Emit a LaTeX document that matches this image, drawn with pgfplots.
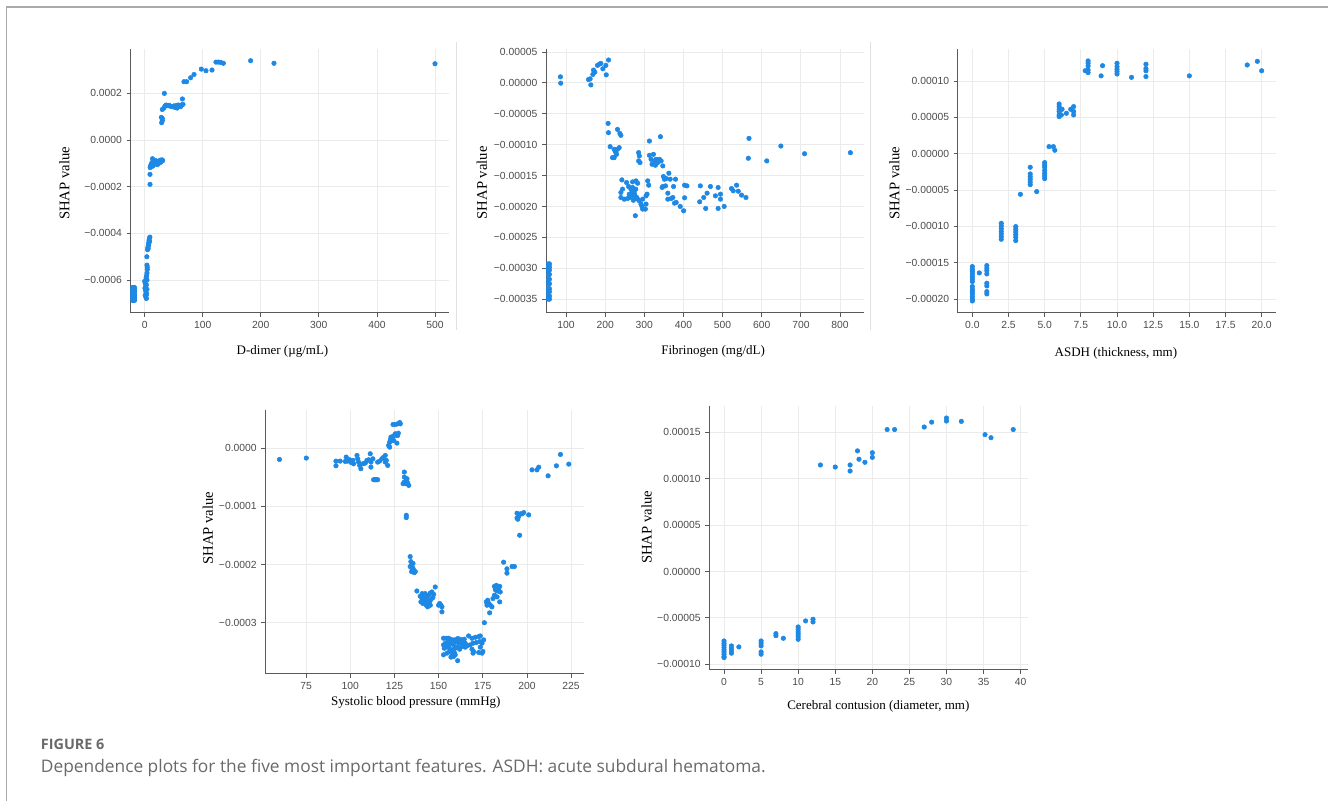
\documentclass[border=0pt]{standalone}
\usepackage{fontspec}
\setmainfont{Liberation Serif}
\newfontfamily\ticksans{Liberation Sans}
\newfontfamily\capfont{Open Sans}
\usepackage{pgfplots}
\pgfplotsset{compat=1.18}
\definecolor{shapblue}{RGB}{30,136,229}
\definecolor{spine}{RGB}{90,90,90}
\definecolor{ticktext}{RGB}{75,75,75}
\definecolor{framegray}{RGB}{170,170,170}
\definecolor{sepgray}{RGB}{225,225,225}
\definecolor{capgray}{RGB}{105,105,105}
\pgfplotsset{
  myax/.style={
    scale only axis, width=238.7pt, height=197.6pt,
    anchor=south west,
    axis x line*=bottom, axis y line*=left,
    axis line style={draw=spine, line width=0.75pt, -},
    tick align=outside, major tick length=3pt,
    tick style={draw=spine, line width=0.6pt},
    grid=major, grid style={draw=black!8, line width=0.6pt},
    tick label style={font=\ticksans\fontsize{7.75}{9}\selectfont, text=ticktext},
    x label style={font=\fontsize{9.75}{11}\selectfont, text=black},
    y label style={font=\fontsize{11}{13}\selectfont, text=black},
    scaled ticks=false,
    clip marker paths=true,
  },
  dots/.style={only marks, mark=*, mark size=1.7pt, color=shapblue, mark options={draw=none, fill=shapblue}},
}
\begin{document}
\begin{tikzpicture}
\path[use as bounding box] (0,0) rectangle (996pt,600.75pt);
% frame and separators
\draw[framegray, line width=1.1pt] (5pt,0) -- (5pt,595.5pt) -- (996pt,595.5pt);
\draw[sepgray, line width=0.75pt] (342.5pt,353.25pt) -- (342.5pt,569.25pt);
\draw[sepgray, line width=0.75pt] (652.5pt,353.25pt) -- (652.5pt,569.25pt);

% ---------------- Panel 1: D-dimer
\begin{axis}[myax, at={(98pt,366.2pt)},
  xmin=-24.1, xmax=524, ymin=-0.00074, ymax=0.000389,
  xtick={0,100,200,300,400,500}, xticklabels={0,100,200,300,400,500},
  ytick={-0.0006,-0.0004,-0.0002,0,0.0002},
  yticklabels={−0.0006,−0.0004,−0.0002,0.0000,0.0002},
  xlabel={D-dimer (µg/mL)}, ylabel={SHAP value},
  xlabel style={at={([yshift=-28.7pt]axis description cs:0.477,0)}, anchor=center},
  ylabel style={at={([xshift=-49.8pt]axis description cs:0,0.491)}, anchor=center},
]
\addplot[dots] coordinates {
(-21,-0.000632)(-21,-0.000637)(-21,-0.000642)(-21,-0.000647)(-21,-0.000652)(-21,-0.000657)(-21,-0.000662)(-21,-0.000667)(-21,-0.000672)(-21,-0.000677)(-21,-0.000682)(-21,-0.000687)
(-19,-0.000632)(-19,-0.000637)(-19,-0.000642)(-19,-0.000647)(-19,-0.000652)(-19,-0.000657)(-19,-0.000662)(-19,-0.000667)(-19,-0.000672)(-19,-0.000677)(-19,-0.000682)(-19,-0.000687)
(-17.5,-0.000632)(-17.5,-0.000637)(-17.5,-0.000642)(-17.5,-0.000647)(-17.5,-0.000652)(-17.5,-0.000657)(-17.5,-0.000662)(-17.5,-0.000667)(-17.5,-0.000672)(-17.5,-0.000677)(-17.5,-0.000682)(-17.5,-0.000687)
(0,-0.000605)(1,-0.000615)(2,-0.000625)(0.5,-0.000635)(1.5,-0.000645)(2.5,-0.000655)(1,-0.000665)(2,-0.000672)(3,-0.000679)(3.5,-0.000660)(4,-0.000640)(3,-0.000620)(4,-0.000600)(2.5,-0.000590)(3.5,-0.000580)(4,-0.000570)(4.5,-0.000555)(4.5,-0.000545)(4,-0.000536)(3.8,-0.000500)
(5,-0.000470)(5.5,-0.000460)(6.5,-0.000452)(7,-0.000440)(7.5,-0.000430)(8,-0.000422)(9,-0.000416)(7,-0.000448)(6,-0.000465)(8.5,-0.000435)
(9.2,-0.000190)(9.2,-0.000147)
(9.5,-0.000118)(10.5,-0.000110)(12,-0.000100)(13.5,-0.000080)(15,-0.000090)(16,-0.000105)(17,-0.000095)(18,-0.000100)(19,-0.000088)(20,-0.000098)(21,-0.000092)(22,-0.000105)(23,-0.000095)(24,-0.000100)(25,-0.000090)(26,-0.000097)(27,-0.000086)(28,-0.000094)(30,-0.000085)(31,-0.000088)(14,-0.000112)(11,-0.000106)(13,-0.000096)
(29.3,0.0000743)(30.4,0.0000829)(30.4,0.0000929)(28.7,0.0000971)(30.4,0.000131)(33.9,0.0002)
(33,0.000137)(35,0.000146)(37,0.00015)(40,0.000147)(42,0.000149)(45,0.000144)(48,0.000143)(50,0.000146)(52,0.000140)(54,0.000148)(56,0.000137)(58,0.000150)(60,0.000147)(62,0.000143)(64,0.000151)(66,0.000153)(65,0.000176)
(67.7,0.00025)(72.3,0.00025)(79.2,0.000267)(85,0.000281)(97.6,0.000304)(105.6,0.000297)(116,0.0003)(122.8,0.000334)(126.9,0.000334)(130.9,0.000333)(135.5,0.000329)(182.5,0.00034)(222.7,0.000329)(500,0.000327)
};
\end{axis}

% ---------------- Panel 2: Fibrinogen
\begin{axis}[myax, at={(409.5pt,366.2pt)},
  xmin=48.7, xmax=862, ymin=-0.000372, ymax=0.0000544,
  xtick={100,200,300,400,500,600,700,800}, xticklabels={100,200,300,400,500,600,700,800},
  ytick={-0.00035,-0.0003,-0.00025,-0.0002,-0.00015,-0.0001,-0.00005,0,0.00005},
  yticklabels={−0.00035,−0.00030,−0.00025,−0.00020,−0.00015,−0.00010,−0.00005,0.00000,0.00005},
  xlabel={Fibrinogen (mg/dL)}, ylabel={SHAP value},
  xlabel style={at={([yshift=-28.7pt]axis description cs:0.525,0)}, anchor=center},
  ylabel style={at={([xshift=-48.2pt]axis description cs:0,0.493)}, anchor=center},
]
\addplot[dots] coordinates {
(54.5,-0.000293)(54.5,-0.000298)(54.5,-0.000303)(54.5,-0.000310)(54.5,-0.000318)(54.5,-0.000325)(54.5,-0.000333)(54.5,-0.000338)(54.5,-0.000345)(54.5,-0.000350)
(57.5,-0.000293)(57.5,-0.000298)(57.5,-0.000303)(57.5,-0.000310)(57.5,-0.000318)(57.5,-0.000325)(57.5,-0.000333)(57.5,-0.000338)(57.5,-0.000345)(57.5,-0.000350)
(85.5,0.0000098)(86.3,-0.0000005)(157.3,0.0000054)(161.5,0.0000065)(163.2,-0.0000033)(168.4,0.0000136)(170.1,0.0000207)(173.5,0.0000174)(180.3,0.0000283)(185.5,0.0000304)(188.9,0.0000315)(194,0.0000228)(201.7,0.0000283)(202.6,0.000013)(208.5,0.000037)
(207.4,-0.0000656)(208.3,-0.0000806)(231.4,-0.0000753)(237.4,-0.0000817)(240.0,-0.0000849)(212.6,-0.0001032)(218.6,-0.000121)(222.9,-0.000121)(222.9,-0.0001075)(227.2,-0.0001129)(231.4,-0.0001075)(235.7,-0.0001048)(225.4,-0.0001102)(228.9,-0.0001156)
(312.9,-0.0000941)(341.1,-0.0000871)(285.4,-0.0001129)(287.1,-0.0001183)(285.4,-0.0001263)(288.9,-0.000129)
(312.9,-0.0001172)(317.1,-0.0001237)(323.1,-0.0001156)(325.7,-0.0001263)(330.0,-0.0001237)(334.3,-0.000129)(338.6,-0.0001237)(342.9,-0.0001263)(347.1,-0.0001344)(319.7,-0.0001317)(328.3,-0.0001333)
(242.6,-0.000157)(254.6,-0.0001613)(270.0,-0.0001602)(278.6,-0.0001586)(282.9,-0.0001624)(259.7,-0.0001677)(265.7,-0.000172)(270.0,-0.0001693)(274.3,-0.0001747)(261.4,-0.0001801)(268.3,-0.0001828)(263.1,-0.0001855)(244.3,-0.000172)(240.0,-0.0001774)(240.0,-0.0001855)(248.6,-0.0001882)(257.1,-0.0001871)(276.9,-0.0001855)(282.9,-0.0001882)(287.1,-0.0001909)(295.7,-0.0001882)(291.4,-0.0001962)(295.7,-0.0002043)(302.6,-0.0002043)(294.0,-0.0002)(304.3,-0.0001962)(308.6,-0.0001586)(311.1,-0.0001656)(306.9,-0.0001801)(304.3,-0.0001828)(276.9,-0.000215)
(270,-0.000175)(275,-0.00018)(268,-0.000178)(280,-0.000185)(272,-0.00019)(278,-0.000172)(266,-0.000183)
(348.8,-0.0001516)(351.4,-0.0001559)(355.7,-0.0001548)(362.6,-0.0001462)(366.0,-0.0001559)(379.7,-0.0001559)(347.1,-0.0001677)(354.0,-0.0001667)(374.6,-0.0001677)(345.4,-0.0001693)
(360.0,-0.0001785)(368.6,-0.0001871)(372.8,-0.0001855)(360.0,-0.0001882)(377.1,-0.0001946)(381.4,-0.0001935)(391.7,-0.00020)(400.3,-0.000207)
(402.8,-0.0001656)(408.8,-0.0001667)(402.8,-0.000186)
(443.1,-0.0001667)(441.4,-0.0001925)(456.8,-0.0002032)(451.7,-0.0001855)(460.3,-0.0001785)(468.8,-0.0001677)(488.5,-0.0001693)(481.7,-0.0001828)(494.5,-0.0001801)(494.5,-0.0001882)(488.5,-0.0002032)(504.0,-0.00020)(522.8,-0.000171)(527.1,-0.0001747)(535.7,-0.0001656)(540.0,-0.0001753)(548.5,-0.0001817)(559.7,-0.0001855)
(567.4,-0.0000898)(565.7,-0.000122)(612.8,-0.0001263)(648.8,-0.0001022)(709.4,-0.0001147)(826.5,-0.000113)
};
\end{axis}

% ---------------- Panel 3: ASDH
\begin{axis}[myax, at={(718.3pt,366.2pt)},
  xmin=-1.01, xmax=20.99, ymin=-0.000219, ymax=0.0001436,
  xtick={0,2.5,5,7.5,10,12.5,15,17.5,20}, xticklabels={0.0,2.5,5.0,7.5,10.0,12.5,15.0,17.5,20.0},
  ytick={-0.0002,-0.00015,-0.0001,-0.00005,0,0.00005,0.0001},
  yticklabels={−0.00020,−0.00015,−0.00010,−0.00005,0.00000,0.00005,0.00010},
  xlabel={ASDH (thickness, mm)}, ylabel={SHAP value},
  xlabel style={at={([yshift=-30.2pt]axis description cs:0.497,0)}, anchor=center},
  ylabel style={at={([xshift=-47.5pt]axis description cs:0,0.491)}, anchor=center},
]
\addplot[dots] coordinates {
(0,-0.0001555)(0,-0.0001592)(0,-0.0001624)(0,-0.0001656)(0,-0.0001693)(0,-0.0001729)(0,-0.0001761)(0,-0.000183)(0,-0.0001867)(0,-0.0001899)(0,-0.0001931)(0,-0.0001968)(0,-0.0002)(0,-0.0002028)
(0.48,-0.0001642)
(1,-0.0001541)(1,-0.0001578)(1,-0.000161)(1,-0.0001656)(1,-0.0001784)(1,-0.0001821)(1,-0.0001899)(1,-0.0001931)
(2,-0.0000959)(2,-0.0000995)(2,-0.0001032)(2,-0.0001069)(2,-0.0001105)(2,-0.0001142)(2,-0.0001179)
(3,-0.0001005)(3,-0.0001041)(3,-0.0001078)(3,-0.0001115)(3,-0.0001151)(3,-0.0001197)
(3.32,-0.000056)
(4,-0.0000188)(4,-0.000028)(4,-0.0000317)(4,-0.0000353)(4,-0.000039)(4,-0.0000427)
(4.45,-0.0000523)
(5,-0.0000124)(5,-0.0000156)(5,-0.0000188)(5,-0.0000234)(5,-0.0000271)(5,-0.0000307)(5,-0.0000344)
(5.3,0.0000096)(5.6,0.0000096)(5.7,0.0000046)
(6,0.0000683)(6,0.0000647)(6,0.000061)(6,0.0000578)(6,0.0000532)(6,0.0000509)(6.2,0.000061)(6.15,0.0000532)
(6.5,0.0000555)(6.8,0.000061)(7,0.0000647)(7,0.000058)(7,0.0000532)
(7.8,0.000114)(8,0.0001275)(8,0.0001243)(8,0.0001206)(8,0.0001151)(8,0.0001115)
(8.9,0.000107)(9,0.000121)
(10,0.0001243)(10,0.0001197)(10,0.0001161)(10,0.0001128)(10,0.0001096)
(11,0.000105)
(12,0.000123)(12,0.000117)(12,0.000114)(12,0.000106)
(15,0.000107)(19,0.000122)(19.7,0.000127)(20,0.000114)
};
\end{axis}

% ---------------- Panel 4: Systolic blood pressure
\begin{axis}[myax, at={(199pt,95.3pt)},
  xmin=51.9, xmax=232.1, ymin=-0.000388, ymax=0.0000647,
  xtick={75,100,125,150,175,200,225}, xticklabels={75,100,125,150,175,200,225},
  ytick={-0.0003,-0.0002,-0.0001,0},
  yticklabels={−0.0003,−0.0002,−0.0001,0.0000},
  xlabel={Systolic blood pressure (mmHg)}, ylabel={SHAP value},
  xlabel style={at={([yshift=-21pt]axis description cs:0.473,0)}, anchor=center},
  ylabel style={at={([xshift=-43.2pt]axis description cs:0,0.553)}, anchor=center},
]
\addplot[dots] coordinates {
(59.9,-0.0000195)(75.1,-0.0000171)
(91.9,-0.0000223)(91.9,-0.0000303)(94.3,-0.0000223)(97.7,-0.0000154)(98.5,-0.0000223)(99.6,-0.00002)(100.4,-0.0000246)(101.5,-0.0000211)(101.9,-0.0000269)(97.2,-0.0000229)
(103.8,-0.0000126)(104.2,-0.0000183)(104.7,-0.000024)(105.3,-0.0000297)(106.0,-0.0000354)(107.2,-0.0000269)(108.5,-0.0000257)(109.4,-0.0000211)(110.4,-0.00002)(111.3,-0.0000097)(111.7,-0.000024)(111.7,-0.0000326)(112.8,-0.0000183)
(113.2,-0.0000543)(113.8,-0.0000543)(114.4,-0.0000543)(114.9,-0.0000543)(115.5,-0.0000543)
(115.5,-0.000024)(116.6,-0.0000223)(117.9,-0.0000183)(118.9,-0.0000154)(119.8,-0.0000126)(120.4,-0.0000211)(121.2,-0.0000297)(119.8,-0.000024)
(121.7,0.0000046)(122.3,0.0000103)(122.7,0.0000143)(123.0,0.0000189)(123.6,0.0000131)(124.2,0.00002)(124.9,0.0000217)(125.5,0.0000246)(126.1,0.0000223)(126.8,0.0000217)(127.2,0.0000257)(124.6,0.0000131)(126.4,0.0000086)(122.3,0.0000017)
(124.2,0.0000406)(125.5,0.0000406)(126.8,0.0000417)(128.0,0.000044)(128.3,0.0000417)
(130.6,-0.0000411)(130.6,-0.0000497)(130.6,-0.0000583)(131.7,-0.0000554)(132.5,-0.00006)(133.1,-0.000064)(129.9,-0.0000611)(131.4,-0.0000611)(132.1,-0.0000526)
(131.7,-0.0001154)(131.7,-0.0001194)
(133.9,-0.0001864)(134.3,-0.000195)(134.9,-0.0002008)(135.5,-0.0002065)(135.8,-0.0002094)(136.2,-0.000214)(134.7,-0.0002122)(133.9,-0.0002036)(136.8,-0.0002122)(135.1,-0.000208)(135.5,-0.000198)
(139.6,-0.0002545)(140.6,-0.0002585)(141.5,-0.0002528)(142.4,-0.00025)(143.4,-0.0002557)(144.3,-0.0002528)(145.3,-0.0002489)(146.2,-0.0002472)(147.2,-0.0002511)(140.0,-0.0002642)(141.1,-0.000267)(141.9,-0.0002614)(143.0,-0.0002699)(143.8,-0.0002727)(144.9,-0.0002642)(145.7,-0.0002602)(146.8,-0.0002568)(144.3,-0.000267)(142.4,-0.0002642)(140.7,-0.00025)(145.3,-0.0002699)(143.4,-0.0002625)(141.9,-0.0002557)(143.0,-0.0002585)(137.7,-0.0002455)(148.1,-0.0002386)
(150.6,-0.000267)(151.3,-0.0002699)(151.9,-0.0002812)(150.0,-0.0002699)(151.9,-0.0002727)
(152.8,-0.0003267)(154.3,-0.0003267)(155.7,-0.0003267)(156.6,-0.0003284)(158.1,-0.0003295)(159.4,-0.0003295)(160.8,-0.0003273)(161.9,-0.0003284)(163.2,-0.0003295)(164.5,-0.0003284)(167.0,-0.0003227)(168.9,-0.0003267)(170.8,-0.000325)(172.7,-0.0003239)(173.6,-0.0003227)
(152.8,-0.0003381)(153.8,-0.0003352)(155.1,-0.0003341)(156.2,-0.0003364)(157.6,-0.0003341)(158.5,-0.0003381)(160.0,-0.0003324)(161.3,-0.0003352)(162.3,-0.0003341)(163.8,-0.0003364)(165.1,-0.0003352)(166.1,-0.0003398)(167.9,-0.0003381)(169.5,-0.0003352)(171.3,-0.0003341)(173.2,-0.0003324)(174.6,-0.0003352)
(153.2,-0.0003438)(154.7,-0.000342)(156.6,-0.0003455)(158.1,-0.0003466)(159.4,-0.0003438)(160.8,-0.000342)(168.9,-0.0003455)(169.8,-0.0003494)(173.6,-0.000342)(175.1,-0.0003494)
(152.8,-0.0003551)(154.7,-0.0003523)(156.2,-0.0003494)(157.6,-0.0003534)(158.5,-0.000358)(159.4,-0.0003551)(160.8,-0.0003653)(169.5,-0.0003523)(172.7,-0.0003511)(174.6,-0.0003523)
(155.7,-0.000341)(163.2,-0.000341)(161.9,-0.0003455)(158.9,-0.0003511)(157.0,-0.0003591)(165.1,-0.000342)(175.5,-0.0003295)
(175.9,-0.0003)
(177.0,-0.0002642)(177.8,-0.0002614)(178.5,-0.000267)(179.3,-0.0002699)(178.9,-0.000283)(180.2,-0.0002727)(177.4,-0.0002699)
(181.6,-0.0002375)(182.7,-0.0002358)(183.4,-0.0002386)(184.0,-0.0002415)(184.6,-0.0002375)(183.1,-0.0002455)(182.1,-0.0002432)(184.9,-0.0002472)(181.6,-0.0002528)(184.6,-0.0002642)(183.1,-0.0002557)(180.8,-0.0002585)
(186.8,-0.000196)(188.7,-0.0002074)(188.7,-0.0002148)(191.6,-0.0002034)(192.9,-0.0002034)
(194.4,-0.0001119)(194.8,-0.0001222)(195.3,-0.0001176)(196.3,-0.000113)(197.2,-0.000113)(198.2,-0.0001107)(195.9,-0.0001497)(201.0,-0.0001147)(194.4,-0.00012)
(202.9,-0.0000373)(205.7,-0.0000373)(206.7,-0.0000327)(212.0,-0.0000476)(216.7,-0.0000304)(219.0,-0.0000109)(223.7,-0.0000275)
};
\end{axis}

% ---------------- Panel 5: Cerebral contusion
\begin{axis}[myax, at={(532pt,98.6pt)},
  xmin=-1.98, xmax=40.94, ymin=-0.0001057, ymax=0.0001783,
  xtick={0,5,10,15,20,25,30,35,40}, xticklabels={0,5,10,15,20,25,30,35,40},
  ytick={-0.0001,-0.00005,0,0.00005,0.0001,0.00015},
  yticklabels={−0.00010,−0.00005,0.00000,0.00005,0.00010,0.00015},
  xlabel={Cerebral contusion (diameter, mm)}, ylabel={SHAP value},
  xlabel style={at={([yshift=-27.3pt]axis description cs:0.531,0)}, anchor=center},
  ylabel style={at={([xshift=-47pt]axis description cs:0,0.539)}, anchor=center},
]
\addplot[dots] coordinates {
(0,-0.0000749)(0,-0.0000774)(0,-0.0000795)(0,-0.000082)(0,-0.0000845)(0,-0.0000867)(0,-0.0000892)(0,-0.0000917)(0,-0.0000928)
(1,-0.0000802)(1,-0.0000831)(1,-0.0000856)(1,-0.0000881)
(2,-0.0000813)
(5,-0.0000749)(5,-0.0000774)(5,-0.0000802)(5,-0.0000867)(5,-0.0000892)
(7,-0.000067)(7,-0.0000692)(8,-0.000072)
(10,-0.0000598)(10,-0.0000623)(10,-0.0000652)(10,-0.0000677)(10,-0.0000702)(10,-0.0000731)
(11,-0.0000533)(12,-0.0000515)(12,-0.0000544)
(13,0.0001148)(15,0.0001126)(17,0.0001148)(17,0.0001083)(18,0.00013)(18.2,0.000121)(19,0.0001177)(20,0.000128)(20,0.000123)
(22,0.000153)(23,0.000153)(27,0.0001557)(28,0.000161)(30,0.0001654)(30,0.0001622)(32,0.0001618)(35.2,0.0001475)(36,0.0001442)(39,0.000153)
};
\end{axis}

% caption
\node[anchor=base west, inner sep=0pt, text=capgray, font=\capfont\bfseries\fontsize{10.8}{13}\selectfont] at (30.5pt,38.8pt) {FIGURE 6};
\node[anchor=base west, inner sep=0pt, text=capgray, font=\capfont\fontsize{13}{15}\selectfont] at (30.5pt,21.2pt) {Dependence plots for the five most important features. ASDH: acute subdural hematoma.};
\end{tikzpicture}
\end{document}
